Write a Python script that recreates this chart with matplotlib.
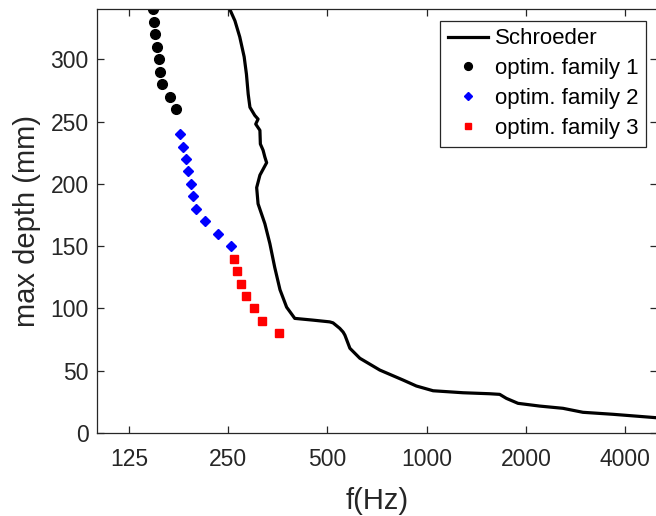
# max depth vs frequency for the optimised families and the Schroeder limit
import numpy as np
import matplotlib.pyplot as plt
from matplotlib.ticker import FixedLocator, NullLocator

plt.rcParams['font.family'] = ['Liberation Sans', 'DejaVu Sans']

# Schroeder curve
schroeder_f = [253, 262, 271, 279.5, 284, 287.5, 291, 301, 308, 303, 312, 313, 319, 323, 327,
               312, 305, 308, 323, 334.5, 346, 359, 376, 398, 452, 508, 520, 545, 558, 565,
               585, 627, 721, 848, 931, 1046, 1289, 1553, 1666, 1745, 1893, 2202, 2591,
               2979, 3673, 4949, 5000]
schroeder_d = [340, 331, 318, 302, 288, 272, 261.5, 255, 252, 248, 243, 232, 227, 221.5, 217,
               207, 197, 184, 168, 152, 133, 115, 101, 92, 90.6, 89.2, 88.4, 84, 81, 78.5,
               68, 60, 50.5, 42.5, 37.7, 33.9, 32.3, 31.5, 31, 27.8, 23.8, 21.6, 19.8,
               16.6, 15, 12.3, 12.2]

# optimised families
fam1_f = [147.8, 148.5, 150.2, 151.7, 153.8, 155.2, 157.0, 166.8, 173.5]
fam1_d = [340, 330, 320, 310, 300, 290, 280, 270, 260]

fam2_f = [178.5, 181.9, 185.7, 189.1, 192.3, 195.0, 199.1, 212.0, 233.1, 254.2]
fam2_d = [240, 230, 220, 210, 200, 190, 180, 170, 160, 150]

fam3_f = [260.1, 265.6, 273.2, 283.5, 298.5, 317.0, 355.4]
fam3_d = [140, 130, 120, 110, 100, 90, 80]

xticks = [125, 250, 500, 1000, 2000, 4000]
yticks = [0, 50, 100, 150, 200, 250, 300]

fig = plt.figure(figsize=(6.56, 5.16), dpi=100)
ax = fig.add_axes([0.1479, 0.1609, 0.8537, 0.8207])

ax.plot(schroeder_f, schroeder_d, color='black', linewidth=2.3, label='Schroeder',
        solid_joinstyle='round')
ax.plot(fam1_f, fam1_d, 'o', color='black', markersize=7, linestyle='none', label='optim. family 1')
ax.plot(fam2_f, fam2_d, 'D', color='#0000ff', markersize=5.5, linestyle='none', label='optim. family 2')
ax.plot(fam3_f, fam3_d, 's', color='#ff0000', markersize=5.5, linestyle='none', label='optim. family 3')

ax.set_xscale('log', base=2)
ax.set_xlim(100, 5000)
ax.set_ylim(0, 340)
ax.xaxis.set_major_locator(FixedLocator(xticks))
ax.xaxis.set_minor_locator(NullLocator())
ax.set_xticklabels([str(t) for t in xticks])
ax.set_yticks(yticks)

c = '#262626'
for s in ax.spines.values():
    s.set_color(c)
    s.set_linewidth(0.9)
ax.tick_params(direction='in', length=5, width=0.9, colors=c, labelsize=16.5,
               top=True, right=True)
ax.tick_params(axis='x', pad=11)
ax.tick_params(axis='y', pad=6)

ax.set_xlabel('f(Hz)', fontsize=21, color=c, labelpad=11)
ax.set_ylabel('max depth (mm)', fontsize=21, color=c, labelpad=7)

leg = ax.legend(loc='upper right', fontsize=16, frameon=True, fancybox=False,
                framealpha=1, edgecolor=c, handlelength=1.8, handletextpad=0.3,
                borderpad=0.35, labelspacing=0.4, borderaxespad=0.5, markerscale=0.8)
leg.get_frame().set_linewidth(0.9)

plt.savefig('out.png', dpi=100)
